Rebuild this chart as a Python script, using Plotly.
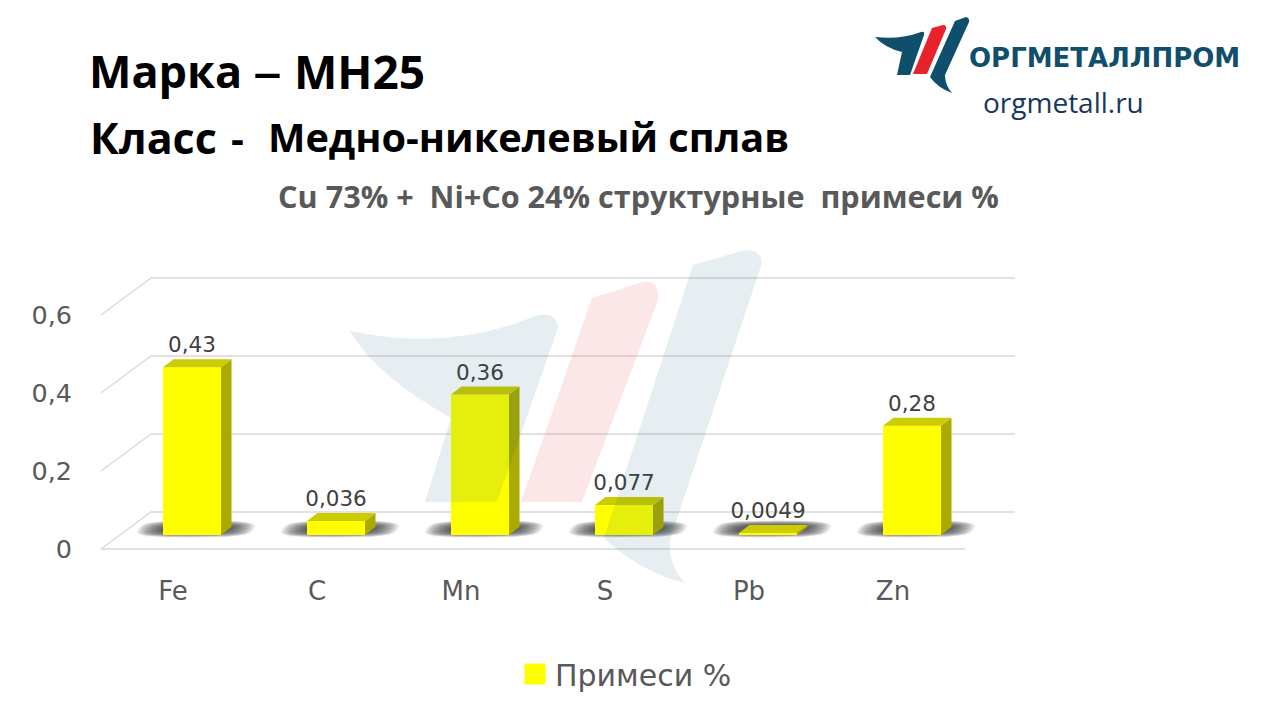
import math
import plotly.graph_objects as go

# ---- data ----
categories = ["Fe", "C", "Mn", "S", "Pb", "Zn"]
values = [0.43, 0.036, 0.36, 0.077, 0.0049, 0.28]
value_labels = ["0,43", "0,036", "0,36", "0,077", "0,0049", "0,28"]
y_ticks = [0, 0.2, 0.4, 0.6]
y_tick_labels = ["0", "0,2", "0,4", "0,6"]
series_name = "Примеси %"

# ---- page geometry (pixels) ----
W, H = 1280, 720
PLOT_L, PLOT_R, PLOT_B, PLOT_T = 96, 1020, 553, 268
X0_PX, Y0_PX = 173, 549                     # pixel of category 0 / of value 0
PX_X, PX_Y = 144, 390                       # px per category / per value unit
FLOOR_DX, FLOOR_DY = 50 / PX_X, 37 / PX_Y   # full floor depth
BAR_DX, BAR_DY = 19 / PX_X, 14 / PX_Y       # bar stands this deep on the floor
BAR_W = 58 / PX_X
FACE_DX, FACE_DY = 10.5 / PX_X, 8 / PX_Y    # bar's own depth
GRID = "#d9d9d9"
TXT = "#595959"
TEAL = "#0f4f6b"
WM_TEAL = "rgb(5,85,115)"
RED = "#e8212b"


def px(seq):
    out = []
    for item in seq:
        cmd, coords = item[0], item[1:]
        vals = []
        for i in range(0, len(coords), 2):
            vals.append(f"{coords[i] / W:.5f},{1 - coords[i + 1] / H:.5f}")
        out.append(cmd + " ".join(vals))
    return " ".join(out) + " Z"


def logo_shape(seq, color, opacity=1.0):
    return dict(type="path", xref="paper", yref="paper", path=px(seq), fillcolor=color,
                opacity=opacity, line=dict(width=0), layer="above")


fig = go.Figure()

# grid: back wall and left wall lines, front floor edge
gx, gy = [-0.5, 5.5, None], [0, 0, None]
for t in y_ticks:
    gx += [-0.5, -0.5 + FLOOR_DX, 5.5 + FLOOR_DX, None]
    gy += [t, t + FLOOR_DY, t + FLOOR_DY, None]
fig.add_trace(go.Scatter(x=gx, y=gy, mode="lines", line=dict(color=GRID, width=1.3),
                         showlegend=False, hoverinfo="skip"))

# soft floor shadows: nested rounded, skewed blobs under each bar
N_SHADOW = 14
for layer in range(N_SHADOW):
    f = layer / (N_SHADOW - 1)
    a = (58 - 24 * f) / PX_X
    b = (8.5 - 4.5 * f) / PX_Y
    skew = 5 / PX_X
    sx, sy = [], []
    for i in range(len(categories)):
        cx = i + BAR_DX + 4 / PX_X
        cy = BAR_DY + 6 / PX_Y
        for k in range(25):
            th = 2 * math.pi * k / 24
            ct, st = math.cos(th), math.sin(th)
            ex = math.copysign(abs(ct) ** 0.6, ct)
            ey = math.copysign(abs(st) ** 0.6, st)
            sx.append(cx + a * ex + skew * ey)
            sy.append(cy + b * ey)
        sx.append(None)
        sy.append(None)
    fig.add_trace(go.Scatter(x=sx, y=sy, mode="lines", fill="toself", line=dict(width=0),
                             fillcolor="rgba(40,40,45,0.09)", showlegend=False, hoverinfo="skip"))

# bars, on an overlaying pair of axes so they draw over the shadows
xs = [i + BAR_DX for i in range(len(categories))]
tops = [BAR_DY + v for v in values]
fig.add_trace(go.Bar(x=xs, y=values, base=BAR_DY, width=BAR_W,
                     marker=dict(color="#ffff00", line=dict(width=0)), cliponaxis=False,
                     showlegend=False, hoverinfo="skip", xaxis="x2", yaxis="y2"))

sx, sy, tx, ty = [], [], [], []
for c, top in zip(xs, tops):
    l, r = c - BAR_W / 2, c + BAR_W / 2
    sx += [r, r + FACE_DX, r + FACE_DX, r, r, None]
    sy += [BAR_DY, BAR_DY + FACE_DY, top + FACE_DY, top, BAR_DY, None]
    tx += [l, r, r + FACE_DX, l + FACE_DX, l, None]
    ty += [top, top, top + FACE_DY, top + FACE_DY, top, None]
fig.add_trace(go.Scatter(x=sx, y=sy, mode="lines", fill="toself", line=dict(width=0),
                         fillcolor="#aaaa00", showlegend=False,
                         hoverinfo="skip", xaxis="x2", yaxis="y2"))
fig.add_trace(go.Scatter(x=tx, y=ty, mode="lines", fill="toself", line=dict(width=0),
                         fillcolor="#cccc00", showlegend=False,
                         hoverinfo="skip", xaxis="x2", yaxis="y2"))

# value labels
fig.add_trace(go.Scatter(x=xs, y=[t + FACE_DY + 1.5 / PX_Y for t in tops], mode="text", text=value_labels,
                         textposition="top center",
                         textfont=dict(family="DejaVu Sans", size=21.5, color="#404040"),
                         cliponaxis=False, showlegend=False, hoverinfo="skip",
                         xaxis="x2", yaxis="y2"))

# legend entry
fig.add_trace(go.Scatter(x=[None], y=[None], mode="markers", name=series_name,
                         marker=dict(symbol="square", size=16, color="#ffff00",
                                     line=dict(color="#ffff00", width=5))))

axis_x = dict(domain=[PLOT_L / W, PLOT_R / W], range=[(PLOT_L - X0_PX) / PX_X, (PLOT_R - X0_PX) / PX_X])
axis_y = dict(domain=[1 - PLOT_B / H, 1 - PLOT_T / H], range=[(Y0_PX - PLOT_B) / PX_Y, (Y0_PX - PLOT_T) / PX_Y])

# logo and its pale watermark
wm_left = [("M", 350, 331), ("Q", 450, 352, 535, 316), ("Q", 556, 310, 558, 328), ("L", 497, 502),
           ("L", 425, 502), ("L", 451, 418), ("Q", 375, 375, 350, 331)]
wm_red = [("M", 592, 298), ("L", 643, 282), ("Q", 660, 280, 658, 300), ("L", 582, 502), ("L", 521, 502)]
wm_right = [("M", 693, 265), ("L", 745, 250), ("Q", 764, 250, 761, 266), ("L", 670, 540),
            ("Q", 668, 565, 685, 583), ("Q", 640, 572, 604, 538)]
lg_left = [("M", 875, 37), ("Q", 900, 40, 921, 32), ("Q", 925, 31, 924, 35), ("L", 910, 75), ("L", 897, 75),
           ("L", 902, 52), ("Q", 885, 48, 875, 37)]
lg_red = [("M", 932, 28), ("L", 943, 25), ("Q", 947, 25, 946, 29), ("L", 927, 74), ("L", 913, 74)]
lg_right = [("M", 955, 21), ("L", 966, 17), ("Q", 970, 18, 969, 22), ("L", 945, 75), ("Q", 945, 85, 952, 93),
            ("Q", 938, 88, 930, 77)]
shapes = [
    logo_shape(wm_left, WM_TEAL, 0.1), logo_shape(wm_red, RED, 0.11), logo_shape(wm_right, WM_TEAL, 0.1),
    logo_shape(lg_left, TEAL), logo_shape(lg_red, RED), logo_shape(lg_right, TEAL),
]


def note(text, x, y, size, color, family, bold=False):
    return dict(text=f"<b>{text}</b>" if bold else text, x=(x - 3) / W, y=1 - y / H, xref="paper", yref="paper",
                xanchor="left", yanchor="middle", showarrow=False,
                font=dict(size=size, color=color, family=family))


annotations = [
    note("Марка", 90, 71, 45, "#000000", "Open Sans", True),
    note("–", 254, 70, 58, "#000000", "Open Sans"),
    note("МН25", 295, 71, 46, "#000000", "Open Sans", True),
    note("Класс", 91, 137, 43, "#000000", "Open Sans", True),
    note("-", 232, 137, 40, "#000000", "Open Sans", True),
    note("Медно-никелевый сплав", 269, 137, 39.7, "#000000", "Open Sans", True),
    note("ОРГМЕТАЛЛПРОМ", 970, 58, 26, TEAL, "DejaVu Sans", True),
    note("orgmetall.ru", 984, 102, 28, "#17375e", "Open Sans"),
]

fig.update_layout(
    width=W, height=H, margin=dict(l=0, r=0, t=0, b=0, pad=0, autoexpand=False), autosize=False,
    paper_bgcolor="white", plot_bgcolor="rgba(0,0,0,0)", barmode="overlay",
    title=dict(text="<b>Cu 73% +  Ni+Co 24% структурные  примеси %</b>", x=638.5 / W, y=1 - 197 / H,
               xanchor="center", yanchor="middle", xref="container", yref="container",
               font=dict(size=30.6, color=TXT, family="Open Sans")),
    xaxis=dict(**axis_x, tickmode="array", tickvals=list(range(len(categories))), ticktext=categories,
               showgrid=False, zeroline=False, showline=False, ticks="",
               ticklabelstandoff=20, tickfont=dict(size=26, color=TXT, family="DejaVu Sans")),
    yaxis=dict(**axis_y, tickmode="array", tickvals=y_ticks, ticktext=y_tick_labels,
               showgrid=False, zeroline=False, showline=False, ticks="",
               ticklabelstandoff=23, tickfont=dict(size=25.5, color=TXT, family="DejaVu Sans")),
    xaxis2=dict(range=axis_x["range"], overlaying="x", visible=False),
    yaxis2=dict(range=axis_y["range"], overlaying="y", visible=False),
    legend=dict(x=515 / W, y=1 - 674 / H, xanchor="left", yanchor="middle", orientation="h",
                xref="container", yref="container",
                font=dict(size=30, color=TXT, family="DejaVu Sans"), bgcolor="rgba(0,0,0,0)"),
    shapes=shapes, annotations=annotations,
)

fig.write_html("out.html", post_script="document.body.style.margin='0';",
               config={"displayModeBar": False})
